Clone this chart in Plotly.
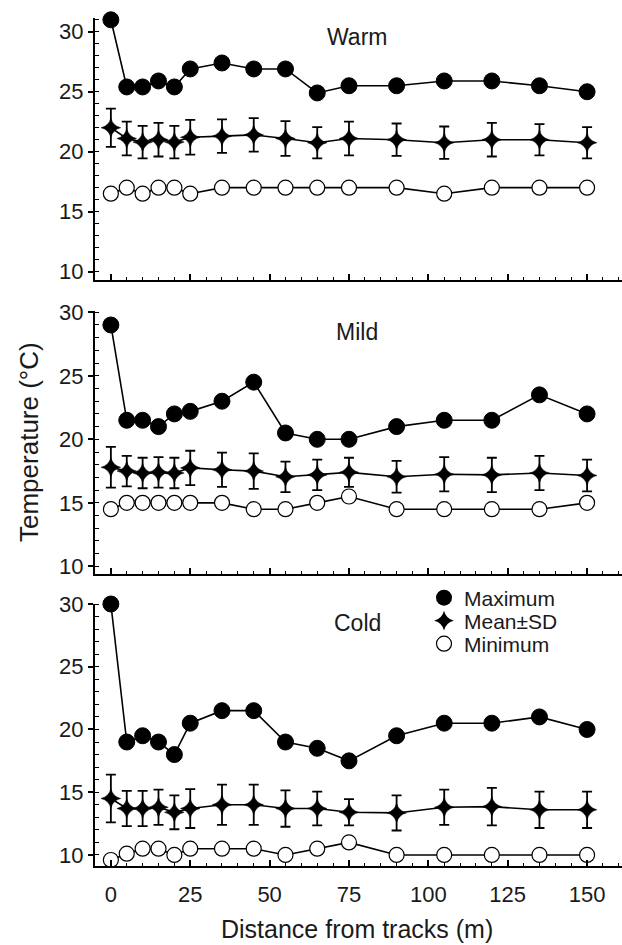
import plotly.graph_objects as go

# ---------------- data ----------------
dist = [0, 5, 10, 15, 20, 25, 35, 45, 55, 65, 75, 90, 105, 120, 135, 150]

warm_max = [31.0, 25.4, 25.4, 25.9, 25.4, 26.9, 27.4, 26.9, 26.9, 24.9, 25.5, 25.5, 25.9, 25.9, 25.5, 25.0]
warm_mean = [22.0, 21.1, 20.8, 21.0, 20.8, 21.2, 21.3, 21.4, 21.1, 20.75, 21.1, 21.0, 20.75, 21.0, 21.0, 20.75]
warm_sd = [1.6, 1.4, 1.35, 1.4, 1.35, 1.45, 1.4, 1.4, 1.45, 1.3, 1.4, 1.35, 1.35, 1.4, 1.3, 1.3]
warm_min = [16.5, 17.0, 16.5, 17.0, 17.0, 16.5, 17.0, 17.0, 17.0, 17.0, 17.0, 17.0, 16.5, 17.0, 17.0, 17.0]

mild_max = [29.0, 21.5, 21.5, 21.0, 22.0, 22.2, 23.0, 24.5, 20.5, 20.0, 20.0, 21.0, 21.5, 21.5, 23.5, 22.0]
mild_mean = [17.8, 17.5, 17.35, 17.4, 17.35, 17.75, 17.6, 17.5, 17.05, 17.2, 17.4, 17.05, 17.25, 17.2, 17.35, 17.15]
mild_sd = [1.6, 1.2, 1.2, 1.2, 1.2, 1.35, 1.35, 1.4, 1.2, 1.2, 1.15, 1.25, 1.35, 1.35, 1.35, 1.25]
mild_min = [14.5, 15.0, 15.0, 15.0, 15.0, 15.0, 15.0, 14.5, 14.5, 15.0, 15.5, 14.5, 14.5, 14.5, 14.5, 15.0]

cold_max = [30.0, 19.0, 19.5, 19.0, 18.0, 20.5, 21.5, 21.5, 19.0, 18.5, 17.5, 19.5, 20.5, 20.5, 21.0, 20.0]
cold_mean = [14.5, 13.7, 13.7, 13.8, 13.4, 13.7, 14.0, 14.0, 13.7, 13.7, 13.4, 13.35, 13.8, 13.85, 13.6, 13.6]
cold_sd = [1.9, 1.4, 1.4, 1.4, 1.35, 1.55, 1.6, 1.6, 1.45, 1.35, 1.05, 1.4, 1.4, 1.5, 1.45, 1.45]
cold_min = [9.6, 10.1, 10.5, 10.5, 10.0, 10.5, 10.5, 10.5, 10.0, 10.5, 11.0, 10.0, 10.0, 10.0, 10.0, 10.0]

panel_names = ["Warm", "Mild", "Cold"]
x_ticks = [0, 25, 50, 75, 100, 125, 150]
y_ticks = [10, 15, 20, 25, 30]
series_names = ["Maximum", "Mean±SD", "Minimum"]

# ---------------- layout geometry ----------------
W, H = 622, 945
ML = 95
PW = W - ML
FONT = "Liberation Sans, Arial, Helvetica, sans-serif"
TXT = "#1a1a1a"

def py(p):
    return 1 - p / H

def px(p):
    return (p - ML) / PW

panels = [
    dict(data=(warm_max, warm_mean, warm_sd, warm_min), dom=(280, 18), rng=[9.3, 31.15], title_y=37),
    dict(data=(mild_max, mild_mean, mild_sd, mild_min), dom=(574, 311), rng=[9.4, 30.1], title_y=332),
    dict(data=(cold_max, cold_mean, cold_sd, cold_min), dom=(866, 604), rng=[9.12, 30.0], title_y=623),
]

fig = go.Figure()
LW = 1.6

for i, p in enumerate(panels):
    mx, mn_, sd, mi = p["data"]
    xa = "x" if i == 0 else f"x{i+1}"
    ya = "y" if i == 0 else f"y{i+1}"
    fig.add_trace(go.Scatter(
        x=dist, y=mi, xaxis=xa, yaxis=ya, mode="lines+markers", showlegend=False,
        line=dict(color="black", width=LW),
        marker=dict(symbol="circle", size=15, color="white", line=dict(color="black", width=1.2)),
        cliponaxis=False))
    fig.add_trace(go.Scatter(
        x=dist, y=mn_, xaxis=xa, yaxis=ya, mode="lines+markers", showlegend=False,
        line=dict(color="black", width=LW),
        marker=dict(symbol="star-diamond", size=14, color="black", line=dict(color="black", width=0.5)),
        error_y=dict(type="data", array=sd, visible=True, color="black", thickness=1.8, width=5),
        cliponaxis=False))
    fig.add_trace(go.Scatter(
        x=dist, y=mx, xaxis=xa, yaxis=ya, mode="lines+markers", showlegend=False,
        line=dict(color="black", width=LW),
        marker=dict(symbol="circle", size=16, color="black", line=dict(color="black", width=1)),
        cliponaxis=False))

    bottom, top = p["dom"]
    xkey = "xaxis" if i == 0 else f"xaxis{i+1}"
    ykey = "yaxis" if i == 0 else f"yaxis{i+1}"
    fig.update_layout(**{
        xkey: dict(
            domain=[0, 1], anchor=ya, range=[-5, 161], showgrid=False, zeroline=False,
            showline=True, linecolor="black", linewidth=2,
            tickmode="array", tickvals=x_ticks, ticktext=[str(t) for t in x_ticks],
            showticklabels=(i == 2), ticks="inside", ticklen=6, tickwidth=1.5, tickcolor="black",
            minor=dict(dtick=5, tick0=0, ticks="inside", ticklen=3, tickwidth=1.2, tickcolor="black"),
            tickfont=dict(family=FONT, size=22, color=TXT), automargin=False,
            ticklabelstandoff=8,
        ),
        ykey: dict(
            domain=[py(bottom), py(top)], anchor=xa, range=p["rng"], showgrid=False, zeroline=False,
            showline=True, linecolor="black", linewidth=2,
            tickmode="array", tickvals=y_ticks, ticktext=[str(t) for t in y_ticks],
            ticks="outside", ticklen=5, tickwidth=1.5, tickcolor="black",
            minor=dict(dtick=1, tick0=0, ticks="inside", ticklen=4, tickwidth=1.2, tickcolor="black"),
            tickfont=dict(family=FONT, size=22, color=TXT), automargin=False,
        ),
    })

# legend entries (markers only), one legend each so rows can sit close together
legend_markers = [
    dict(symbol="circle", size=16, color="black"),
    dict(symbol="star-diamond", size=14, color="black"),
    dict(symbol="circle", size=15, color="white", line=dict(color="black", width=1.2)),
]
legend_keys = ["legend", "legend2", "legend3"]
for name, mk, lk in zip(series_names, legend_markers, legend_keys):
    fig.add_trace(go.Scatter(x=[None], y=[None], mode="markers", name=name, marker=mk,
                             legend=lk, showlegend=True))

annotations = []
for i, p in enumerate(panels):
    annotations.append(dict(text=panel_names[i], x=px(357), y=py(p["title_y"]), xref="paper", yref="paper",
                            xanchor="center", yanchor="middle", showarrow=False,
                            font=dict(family=FONT, size=23, color=TXT)))
annotations.append(dict(text="Temperature (°C)", x=px(29), y=py(442), xref="paper", yref="paper",
                        xanchor="center", yanchor="middle", textangle=-90, showarrow=False,
                        font=dict(family=FONT, size=26, color=TXT)))
annotations.append(dict(text="Distance from tracks (m)", x=px(357), y=py(929), xref="paper", yref="paper",
                        xanchor="center", yanchor="middle", showarrow=False,
                        font=dict(family=FONT, size=25, color=TXT)))

legend_common = dict(xanchor="left", yanchor="middle", bgcolor="rgba(0,0,0,0)",
                     font=dict(family=FONT, size=21, color=TXT), itemwidth=30, borderwidth=0)
legend_rows = [598, 621, 644]

fig.update_layout(
    width=W, height=H, template="none",
    margin=dict(l=ML, r=0, t=0, b=0, pad=0),
    paper_bgcolor="white", plot_bgcolor="white",
    annotations=annotations,
    showlegend=True,
    legend=dict(x=px(424), y=py(legend_rows[0]), **legend_common),
    legend2=dict(x=px(424), y=py(legend_rows[1]), **legend_common),
    legend3=dict(x=px(424), y=py(legend_rows[2]), **legend_common),
)

fig.write_html("out.html")
